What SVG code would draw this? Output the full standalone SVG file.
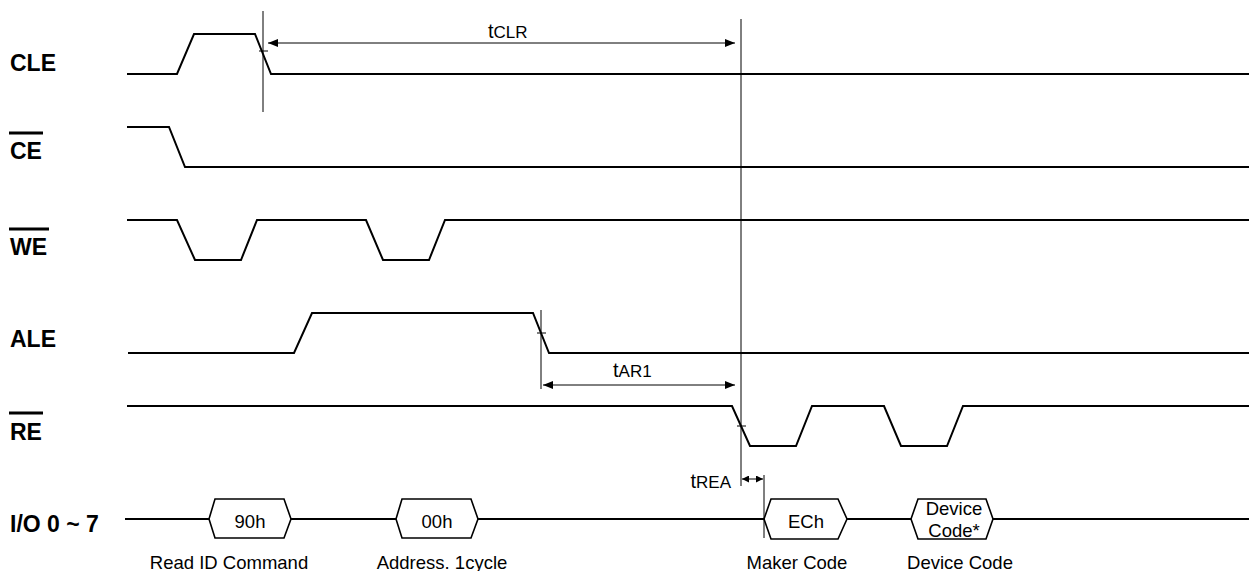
<svg xmlns="http://www.w3.org/2000/svg" width="1249" height="571" viewBox="0 0 1249 571">
<style>
.sig{fill:none;stroke:#000;stroke-width:2;stroke-linejoin:miter}
.thin{fill:none;stroke:#000;stroke-width:1}
.box{fill:#fff;stroke:#000;stroke-width:1.6}
.lbl{font-family:"Liberation Sans",Arial,sans-serif;font-weight:bold;font-size:23px;fill:#000}
.txt{font-family:"Liberation Sans",Arial,sans-serif;font-size:18.5px;fill:#000}
.tm{font-family:"Liberation Sans",Arial,sans-serif;font-size:20px;fill:#000}
.sub{font-size:17px}
.bar{stroke:#000;stroke-width:3}
</style>
<defs>
<marker id="ah" viewBox="0 0 10 8" refX="10" refY="4" markerWidth="10" markerHeight="8" markerUnits="userSpaceOnUse" orient="auto-start-reverse">
<path d="M0,0 L10,4 L0,8 Z" fill="#000"/>
</marker>
<marker id="ahs" viewBox="0 0 8 8" refX="8" refY="4" markerWidth="8" markerHeight="7" markerUnits="userSpaceOnUse" orient="auto-start-reverse">
<path d="M0,0 L8,4 L0,8 Z" fill="#000"/>
</marker>
</defs>

<g id="labels">
<text class="lbl" x="10" y="71">CLE</text>
<line class="bar" x1="9" y1="133" x2="43" y2="133"/>
<text class="lbl" x="10" y="159">CE</text>
<line class="bar" x1="9" y1="229" x2="49" y2="229"/>
<text class="lbl" x="10" y="255">WE</text>
<text class="lbl" x="10" y="347">ALE</text>
<line class="bar" x1="9" y1="413" x2="43" y2="413"/>
<text class="lbl" x="10" y="440">RE</text>
<text class="lbl" x="10" y="532">I/O 0 ~ 7</text>
</g>

<g id="CLE">
<polyline class="sig" points="127,74 177,74 194,34 255,34 271,74 1249,74"/>
</g>
<g id="CE">
<polyline class="sig" points="127,127 169,127 185,167 1249,167"/>
</g>
<g id="WE">
<polyline class="sig" points="127,220 177,220 195,260 241,260 257,220 366,220 383,260 429,260 445,220 1249,220"/>
</g>
<g id="ALE">
<polyline class="sig" points="128,353 294,353 312,313 533,313 549,353 1249,353"/>
</g>
<g id="RE">
<polyline class="sig" points="127,406 732,406 750,446 796,446 812,406 884,406 901,446 947,446 963,406 1249,406"/>
</g>

<g id="IO">
<polyline class="sig" points="125,519 209,519"/>
<polyline class="sig" points="291,519 396,519"/>
<polyline class="sig" points="478,519 764,519"/>
<polyline class="sig" points="847,519 911,519"/>
<polyline class="sig" points="993,519 1249,519"/>
</g>
<g id="box90h">
<polygon class="box" points="209,519 215,499 284,499 291,519 284,538 215,538"/>
<text class="txt" x="250" y="528" text-anchor="middle">90h</text>
</g>
<g id="box00h">
<polygon class="box" points="396,519 402,499 471,499 478,519 471,538 402,538"/>
<text class="txt" x="437" y="528" text-anchor="middle">00h</text>
</g>
<g id="boxECh">
<polygon class="box" points="764,519 771,499 838,499 847,519 838,539 771,539"/>
<text class="txt" x="806" y="528" text-anchor="middle">ECh</text>
</g>
<g id="boxDev">
<polygon class="box" points="911,519 918,499 986,499 993,519 986,539 918,539"/>
<text class="txt" x="954" y="515" text-anchor="middle" font-size="18">Device</text>
<text class="txt" x="954" y="537" text-anchor="middle" font-size="18">Code*</text>
</g>

<g id="connectors">
<line class="thin" x1="263" y1="11" x2="263" y2="112"/>
<line class="thin" x1="259" y1="51" x2="268" y2="51"/>
<line class="thin" x1="741" y1="19" x2="741" y2="486"/>
<line class="thin" x1="268" y1="43" x2="735" y2="43" marker-start="url(#ah)" marker-end="url(#ah)"/>
<line class="thin" x1="541" y1="310" x2="541" y2="389"/>
<line class="thin" x1="537" y1="333" x2="546" y2="333"/>
<line class="thin" x1="543" y1="385" x2="735" y2="385" marker-start="url(#ah)" marker-end="url(#ah)"/>
<line class="thin" x1="737" y1="426" x2="746" y2="426"/>
<line class="thin" x1="764" y1="475" x2="764" y2="538"/>
<line class="thin" x1="742" y1="479" x2="763" y2="479" marker-start="url(#ahs)" marker-end="url(#ahs)"/>
</g>

<g id="timing-labels">
<text class="tm" x="488" y="38">t<tspan class="sub">CLR</tspan></text>
<text class="tm" x="613" y="377">t<tspan class="sub">AR1</tspan></text>
<text class="tm" x="731" y="488" text-anchor="end">t<tspan class="sub">REA</tspan></text>
</g>

<g id="captions">
<text class="txt" x="229" y="569" text-anchor="middle">Read ID Command</text>
<text class="txt" x="442" y="569" text-anchor="middle">Address. 1cycle</text>
<text class="txt" x="797" y="569" text-anchor="middle">Maker Code</text>
<text class="txt" x="960" y="569" text-anchor="middle">Device Code</text>
</g>
</svg>
